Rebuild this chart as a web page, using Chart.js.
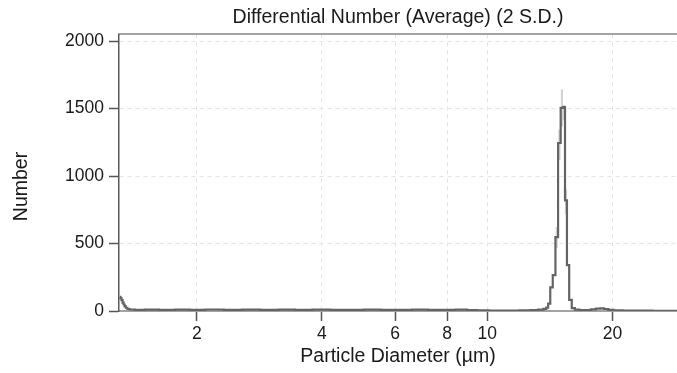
<!DOCTYPE html>
<html>
<head>
<meta charset="utf-8">
<script src="https://cdn.jsdelivr.net/npm/chart.js"></script>
<style>
  html, body { margin: 0; padding: 0; background: #fff; }
  #wrap { width: 677px; height: 373px; position: relative; }
</style>
</head>
<body>
<div id="wrap"><canvas id="chart"></canvas></div>
<script>
// Particle size distribution (Coulter-type)
const diameters = [
  1.307, 1.314, 1.322, 1.33, 1.337, 1.345, 1.355, 1.37, 1.39,
  1.45, 1.55, 1.7, 1.85, 2.0, 2.2, 2.45, 2.7, 3.0, 3.3, 3.6, 4.0, 4.4, 4.8,
  5.3, 5.8, 6.3, 6.9, 7.5, 8.1, 8.7, 9.2, 9.7, 10.5, 11.5, 12.4, 13.0, 13.5, 13.8,
  13.93, 14.085, 14.26, 14.48, 14.69, 14.91, 15.12, 15.30, 15.46, 15.63, 15.85, 16.08,
  16.4, 16.9, 17.5, 18.0, 18.5, 18.9, 19.3, 19.8, 20.5, 22, 24, 26, 28.6
];
const counts = [
  104, 96, 80, 62, 48, 34, 24, 15, 11,
  9, 10, 8, 10, 9, 11, 9, 10, 8, 10, 9, 10, 8, 9,
  10, 8, 9, 10, 8, 9, 10, 7, 4, 3, 3, 4, 6, 10, 16,
  25, 55, 175, 266, 548, 1245, 1505, 1512, 820, 340, 82, 22,
  10, 6, 7, 12, 18, 20, 15, 8, 4, 3, 3, 2, 2
];

// 2 S.D. spread around the peak bins
const sdDiameters = [14.69, 14.91, 15.12, 15.30, 15.46];
const sdLow = [470, 1120, 1370, 1420, 720];
const sdHigh = [620, 1340, 1640, 1525, 900];

const xTicks = [2, 4, 6, 8, 10, 20];
const yTicks = [0, 500, 1000, 1500, 2000];
const xMin = 1.3, xMax = 28.6;
const yMin = 0, yMax = 2050;

const chartTitle = 'Differential Number (Average) (2 S.D.)';
const xTitle = 'Particle Diameter (µm)';
const yTitle = 'Number';

Chart.defaults.font.family = '"Liberation Sans", Arial, Helvetica, sans-serif';
Chart.defaults.color = '#1a1a1a';

// y title centred on the whole canvas height, as in the original
const yTitlePlugin = {
  id: 'yTitle',
  afterDraw(chart) {
    const ctx = chart.ctx;
    ctx.save();
    ctx.translate(22, chart.height / 2);
    ctx.rotate(-Math.PI / 2);
    ctx.font = '19.5px "Liberation Sans", Arial, sans-serif';
    ctx.fillStyle = '#1a1a1a';
    ctx.textAlign = 'center';
    ctx.textBaseline = 'middle';
    ctx.fillText(yTitle, 0, 0);
    ctx.restore();
  }
};

new Chart(document.getElementById('chart'), {
  type: 'line',
  data: {
    datasets: [
      {
        type: 'line',
        label: 'Average',
        data: diameters.map((d, i) => ({ x: d, y: counts[i] })),
        borderColor: '#646464',
        borderWidth: 2.2,
        pointRadius: 0,
        stepped: 'middle',
        fill: false,
        order: 1
      },
      {
        type: 'bar',
        label: '2 S.D.',
        data: sdDiameters.map((d, i) => ({ x: d, y: [sdLow[i], sdHigh[i]] })),
        backgroundColor: '#d2d2d2',
        barThickness: 1.5,
        order: 2
      }
    ]
  },
  options: {
    responsive: true,
    maintainAspectRatio: false,
    animation: false,
    layout: { padding: 0 },
    plugins: {
      legend: { display: false },
      tooltip: { enabled: false },
      title: {
        display: true,
        text: chartTitle,
        fullSize: false,
        color: '#1a1a1a',
        font: { size: 19.5, weight: 'normal' },
        padding: { top: 6, bottom: 5 }
      }
    },
    scales: {
      x: {
        type: 'logarithmic',
        position: 'bottom',
        min: xMin,
        max: xMax,
        offset: false,
        afterBuildTicks: s => { s.ticks = xTicks.map(v => ({ value: v })); },
        afterFit: s => { s.height = 62; },
        ticks: {
          autoSkip: false,
          maxRotation: 0,
          padding: 3,
          color: '#1a1a1a',
          font: { size: 17.5 },
          callback: v => String(v)
        },
        grid: {
          offset: false,
          color: '#e4e4e4',
          lineWidth: 1,
          tickLength: 10,
          tickColor: '#555',
          tickWidth: 1.5,
          tickBorderDash: []
        },
        border: { color: '#a3a3a3', width: 2, dash: [4, 4] },
        title: {
          display: true,
          text: xTitle,
          color: '#1a1a1a',
          font: { size: 19.5 },
          padding: { top: 0, bottom: 5 }
        }
      },
      x2: {
        type: 'logarithmic',
        position: 'top',
        min: xMin,
        max: xMax,
        display: true,
        ticks: { display: false },
        grid: { display: false, drawTicks: false },
        border: { display: true, color: '#a3a3a3', width: 2 },
        afterFit: s => { s.height = 0; }
      },
      y: {
        type: 'linear',
        min: yMin,
        max: yMax,
        afterBuildTicks: s => { s.ticks = yTicks.map(v => ({ value: v })); },
        afterFit: s => { s.width = 119; },
        ticks: {
          autoSkip: false,
          padding: 5,
          color: '#1a1a1a',
          font: { size: 17.5 },
          callback: v => String(v)
        },
        grid: {
          color: '#e4e4e4',
          lineWidth: 1,
          tickLength: 10,
          tickColor: '#555',
          tickWidth: 1.5,
          tickBorderDash: []
        },
        border: { color: '#5a5a5a', width: 1.5, dash: [4, 4] },
        title: { display: false }
      }
    }
  },
  plugins: [yTitlePlugin]
});
</script>
</body>
</html>
